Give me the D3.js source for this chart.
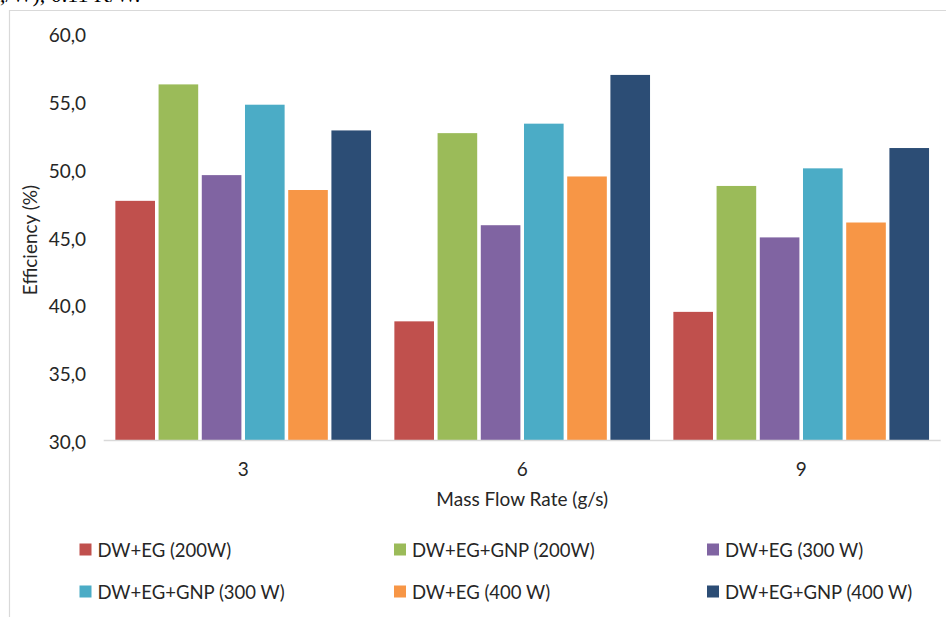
<!DOCTYPE html>
<html>
<head>
<meta charset="utf-8">
<script src="https://cdn.jsdelivr.net/npm/d3@7"></script>
<style>
  html, body { margin: 0; padding: 0; background: #fff; }
  svg { display: block; }
  text { font-family: Lato, "Open Sans", sans-serif; fill: #262626; }
</style>
</head>
<body>
<svg id="chart" width="946" height="617"></svg>
<script>
// Mass flow rates (g/s) on the category axis
const flowRates = ["3", "6", "9"];

// Fluid / heat-load series
const seriesNames = [
  "DW+EG (200W)",
  "DW+EG+GNP (200W)",
  "DW+EG (300 W)",
  "DW+EG+GNP (300 W)",
  "DW+EG (400 W)",
  "DW+EG+GNP (400 W)"
];

// Collector efficiency (%) per series, one value per flow rate
const dwEg200    = [47.7, 38.8, 39.5];
const dwEgGnp200 = [56.3, 52.7, 48.8];
const dwEg300    = [49.6, 45.9, 45.0];
const dwEgGnp300 = [54.8, 53.4, 50.1];
const dwEg400    = [48.5, 49.5, 46.1];
const dwEgGnp400 = [52.9, 57.0, 51.6];

const seriesValues = [dwEg200, dwEgGnp200, dwEg300, dwEgGnp300, dwEg400, dwEgGnp400];

const seriesColors = ["#C0504D", "#9BBB59", "#8064A2", "#4BACC6", "#F79646", "#2C4D75"];

// Y axis ticks
const yTicks = [30, 35, 40, 45, 50, 55, 60];

const svg = d3.select("#chart");

// fragment of the surrounding document text, clipped at the top edge
svg.append("text")
  .attr("x", -6).attr("y", 2)
  .style("font-family", "'Liberation Serif', 'DejaVu Serif', serif")
  .style("font-size", "22px")
  .style("fill", "#000")
  .text("t,/W), 0.11 K/W.");

// chart frame
svg.append("path")
  .attr("d", "M9.5,617 V10.5 H946")
  .attr("fill", "none")
  .attr("stroke", "#D9D9D9")
  .attr("stroke-width", 1.2);

const plot = { left: 103.7, right: 940.7, top: 34.3, bottom: 440.5 };

const x0 = d3.scaleBand()
  .domain(flowRates)
  .range([plot.left, plot.right])
  .paddingInner(0)
  .paddingOuter(0);

const x1 = d3.scaleBand()
  .domain(seriesNames)
  .range([0, x0.bandwidth()])
  .paddingInner(0.083)
  .paddingOuter(0.27);

const y = d3.scaleLinear()
  .domain([30, 60])
  .range([plot.bottom, plot.top]);

// bars
const groups = svg.append("g")
  .selectAll("g")
  .data(flowRates)
  .join("g")
  .attr("transform", d => `translate(${x0(d)},0)`);

groups.selectAll("rect")
  .data((d, i) => seriesNames.map((s, j) => ({ series: s, value: seriesValues[j][i], color: seriesColors[j] })))
  .join("rect")
  .attr("x", d => x1(d.series))
  .attr("width", x1.bandwidth())
  .attr("y", d => y(d.value))
  .attr("height", d => y(30) - y(d.value))
  .attr("fill", d => d.color);

// category axis baseline
svg.append("line")
  .attr("x1", plot.left).attr("x2", plot.right)
  .attr("y1", plot.bottom).attr("y2", plot.bottom)
  .attr("stroke", "#D9D9D9")
  .attr("stroke-width", 1.3);

// y axis labels
const fmt = v => d3.format(".1f")(v).replace(".", ",");
const yAxis = d3.axisLeft(y).tickValues(yTicks).tickFormat(fmt).tickSize(0).tickPadding(0);
const yg = svg.append("g").attr("transform", "translate(86,0)").call(yAxis);
yg.select(".domain").remove();
yg.selectAll("text")
  .attr("dy", "0.4em")
  .style("font-family", "Lato, 'Open Sans', sans-serif")
  .style("font-size", "19px")
  .style("fill", "#262626");

// x axis labels
const xAxis = d3.axisBottom(x0).tickSize(0).tickPadding(0);
const xg = svg.append("g").attr("transform", `translate(0,${plot.bottom})`).call(xAxis);
xg.select(".domain").remove();
xg.selectAll("text")
  .attr("dy", null)
  .attr("y", 35)
  .style("font-family", "Lato, 'Open Sans', sans-serif")
  .style("font-size", "19px")
  .style("fill", "#262626");

// axis titles
svg.append("text")
  .attr("x", (plot.left + plot.right) / 2)
  .attr("y", 505.5)
  .attr("text-anchor", "middle")
  .style("font-size", "19px")
  .text("Mass Flow Rate (g/s)");

svg.append("text")
  .attr("transform", "translate(37,240) rotate(-90)")
  .attr("text-anchor", "middle")
  .style("font-size", "19px")
  .text("Efficiency (%)");

// legend, 3 columns x 2 rows
const legendCols = [79.5, 394, 707];
const legendRows = [543.5, 585.5];
const legend = svg.append("g")
  .selectAll("g")
  .data(seriesNames)
  .join("g")
  .attr("transform", (d, i) => `translate(${legendCols[i % 3]},${legendRows[Math.floor(i / 3)]})`);

legend.append("rect")
  .attr("width", 12).attr("height", 12)
  .attr("fill", (d, i) => seriesColors[i]);

legend.append("text")
  .attr("x", 18)
  .attr("y", 13.5)
  .style("font-size", "18.5px")
  .text(d => d);
</script>
</body>
</html>
